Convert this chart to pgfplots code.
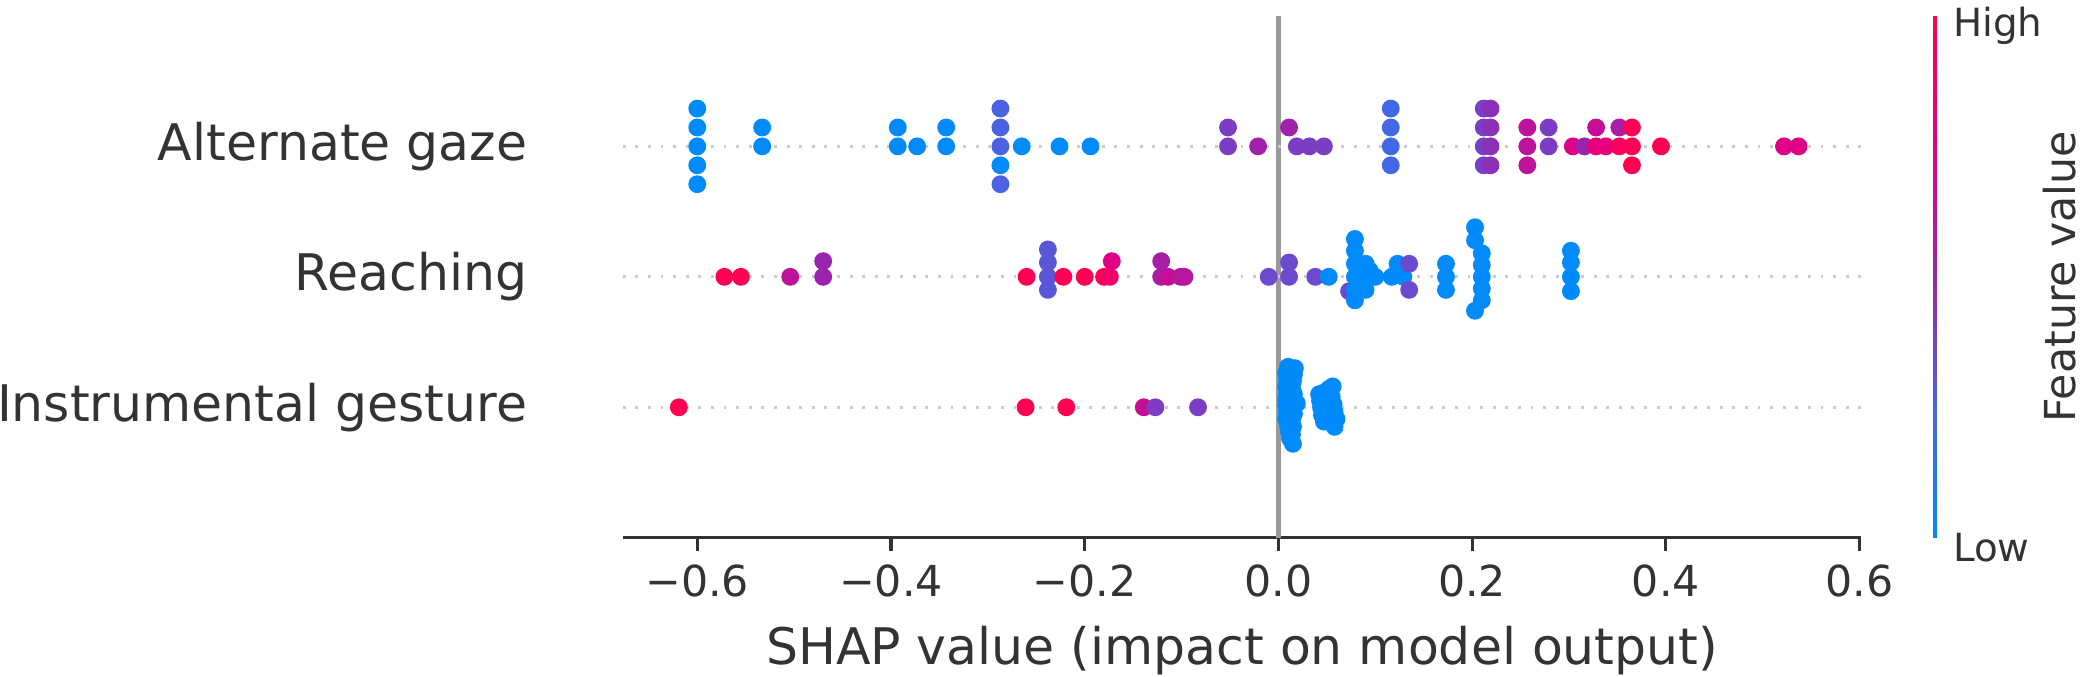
\documentclass[border=0pt]{standalone}
\usepackage{fontspec}
\setmainfont{DejaVu Sans}
\usepackage{pgfplots}
\usepackage{pgfplotstable}
\pgfplotsset{compat=1.18}
\definecolor{txt}{HTML}{333333}
\definecolor{rowline}{HTML}{CCCCCC}
\definecolor{zeroline}{HTML}{999999}
\pgfplotsset{colormap={shap}{rgb255=(0,138,250) rgb255=(75,99,227) rgb255=(155,36,173) rgb255=(224,0,134) rgb255=(255,0,82)}}

\pgfplotstableread{
x y c
-0.600 2.29 0
-0.600 2.145 0
-0.600 2 0
-0.600 1.855 0
-0.600 1.71 0
-0.533 2 0
-0.533 2.145 0
-0.393 2 0
-0.393 2.145 0
-0.373 2 0
-0.343 2 0
-0.343 2.145 0
-0.287 2.29 0.25
-0.287 2.145 0.25
-0.287 2 0.25
-0.287 1.855 0
-0.287 1.71 0.25
-0.265 2 0
-0.226 2 0
-0.194 2 0
-0.052 2 0.4
-0.052 2.145 0.4
-0.021 2 0.52
0.011 2.145 0.52
0.019 2 0.4
0.032 2 0.4
0.047 2 0.4
0.116 2.29 0.22
0.116 2.145 0.22
0.116 2 0.22
0.116 1.855 0.22
0.212 2.29 0.38
0.212 2.145 0.38
0.212 2 0.38
0.212 1.855 0.38
0.219 2.29 0.45
0.219 2.145 0.45
0.219 2 0.45
0.219 1.855 0.45
0.257 2.145 0.62
0.257 2 0.62
0.257 1.855 0.62
0.279 2.145 0.4
0.279 2 0.4
0.304 2 0.75
0.316 2 0.5
0.328 2.145 0.65
0.328 2 0.8
0.338 2 0.8
0.352 2.145 0.55
0.352 2 0.95
0.365 2.145 1
0.365 2 1
0.365 1.855 1
0.395 2 1
0.522 2 0.75
0.537 2 0.75
}\agdata

\pgfplotstableread{
x y c
-0.572 1 1
-0.555 1 1
-0.504 1 0.62
-0.470 1 0.5
-0.470 1.12 0.5
-0.260 1 1
-0.238 1.21 0.3
-0.238 1.11 0.3
-0.238 1 0.3
-0.238 0.9 0.3
-0.222 1 1
-0.200 1 1
-0.180 1 1
-0.174 1 0.9
-0.172 1.12 0.75
-0.121 1.12 0.55
-0.121 1 0.55
-0.114 1 0.65
-0.101 1 0.6
-0.097 1 0.6
-0.010 1 0.35
0.011 1.11 0.35
0.011 1 0.35
0.038 1 0.35
0.052 1 0
0.073 0.89 0.35
0.079 1.29 0
0.079 1.2 0
0.079 1.1 0
0.079 1 0
0.079 0.9 0
0.079 0.82 0
0.090 1.1 0
0.090 1 0
0.090 0.9 0
0.094 1.05 0
0.100 1 0
0.117 1 0
0.123 1.1 0
0.129 1 0
0.135 1.1 0.35
0.135 0.9 0.35
0.173 1.1 0
0.173 1 0
0.173 0.9 0
0.203 1.38 0
0.203 1.28 0
0.203 0.74 0
0.210 1.18 0
0.210 1.09 0
0.210 1 0
0.210 0.91 0
0.210 0.82 0
0.302 1.2 0
0.302 1.11 0
0.302 1 0
0.302 0.89 0
}\rdata

\pgfplotstableread{
x y c
-0.619 0 1
-0.261 0 1
-0.219 0 1
-0.139 0 0.65
-0.127 0 0.4
-0.083 0 0.4
0.010 0.31 0
0.017 0.30 0
0.008 0.26 0
0.016 0.25 0
0.009 0.21 0
0.015 0.20 0
0.008 0.16 0
0.014 0.15 0
0.009 0.11 0
0.016 0.10 0
0.008 0.06 0
0.015 0.05 0
0.019 0.03 0
0.008 0.01 0
0.014 0.00 0
0.009 -0.04 0
0.016 -0.05 0
0.008 -0.09 0
0.014 -0.10 0
0.010 -0.14 0
0.015 -0.15 0
0.011 -0.19 0
0.014 -0.21 0
0.012 -0.24 0
0.015 -0.28 0
0.042 0.10 0
0.046 0.11 0
0.052 0.14 0
0.056 0.16 0
0.043 0.05 0
0.049 0.05 0
0.055 0.08 0
0.044 0.00 0
0.050 -0.01 0
0.057 0.02 0
0.045 -0.06 0
0.052 -0.07 0
0.058 -0.04 0
0.047 -0.11 0
0.055 -0.12 0
0.060 -0.09 0
0.058 -0.15 0
}\igdata

\begin{document}
\begin{tikzpicture}
\path[use as bounding box] (-160.5pt,-35.8pt) rectangle (376.4pt,138.6pt);
\begin{axis}[
  scale only axis, width=319.3pt, height=134.5pt,
  xmin=-0.677, xmax=0.602, ymin=-1, ymax=3,
  axis x line*=bottom, axis y line*=left,
  y axis line style={draw=none},
  x axis line style={txt, line width=0.8pt},
  xtick={-0.6,-0.4,-0.2,0,0.2,0.4,0.6},
  xticklabels={−0.6,−0.4,−0.2,0.0,0.2,0.4,0.6},
  xtick align=outside,
  xtick style={txt, line width=0.8pt},
  major tick length=3.5pt,
  xticklabel style={font=\fontsize{11}{13}\selectfont, text=txt},
  ytick={0,1,2},
  yticklabels={Instrumental gesture,Reaching,Alternate gaze},
  ytick style={draw=none},
  yticklabel style={font=\fontsize{13}{15}\selectfont, text=txt, anchor=east, inner sep=0pt, xshift=-24.4pt},
  xlabel={SHAP value (impact on model output)},
  xlabel style={font=\fontsize{13}{15}\selectfont, text=txt, at={(axis description cs:0.5,0)}, anchor=center, yshift=-29.1pt},
  point meta min=0, point meta max=1, colormap name=shap,
  colorbar,
  colorbar style={
    at={(parent axis.north east)}, anchor=north west,
    xshift=9.9pt, yshift=0pt,
    scale only axis, width=1.0pt, height=134.5pt,
    axis line style={draw=none},
    ytick={0,1}, yticklabels={Low,High},
    major tick length=0pt,
    yticklabel style={font=\fontsize{10}{12}\selectfont, text=txt, anchor=west, inner sep=0pt, xshift=4pt, yshift=-2.6pt},
  },
]
\addplot[color=zeroline, line width=1.3pt, forget plot] coordinates {(0,-1) (0,3)};
\addplot[color=rowline, line width=0.75pt, dash pattern=on 0.75pt off 2.5pt, forget plot] coordinates {(-0.677,2) (0.602,2)};
\addplot[color=rowline, line width=0.75pt, dash pattern=on 0.75pt off 2.5pt, forget plot] coordinates {(-0.677,1) (0.602,1)};
\addplot[color=rowline, line width=0.75pt, dash pattern=on 0.75pt off 2.5pt, forget plot] coordinates {(-0.677,0) (0.602,0)};
\addplot[scatter, only marks, mark=*, mark size=2.1pt, scatter src=explicit, scatter/use mapped color={draw=mapped color, fill=mapped color}] table[x=x,y=y,meta=c] {\agdata};
\addplot[scatter, only marks, mark=*, mark size=2.1pt, scatter src=explicit, scatter/use mapped color={draw=mapped color, fill=mapped color}] table[x=x,y=y,meta=c] {\rdata};
\addplot[scatter, only marks, mark=*, mark size=2.1pt, scatter src=explicit, scatter/use mapped color={draw=mapped color, fill=mapped color}] table[x=x,y=y,meta=c] {\igdata};
\end{axis}
\node[rotate=90, anchor=base, font=\fontsize{11}{13}\selectfont, text=txt] at (374.5pt,67.3pt) {Feature value};
\end{tikzpicture}
\end{document}
